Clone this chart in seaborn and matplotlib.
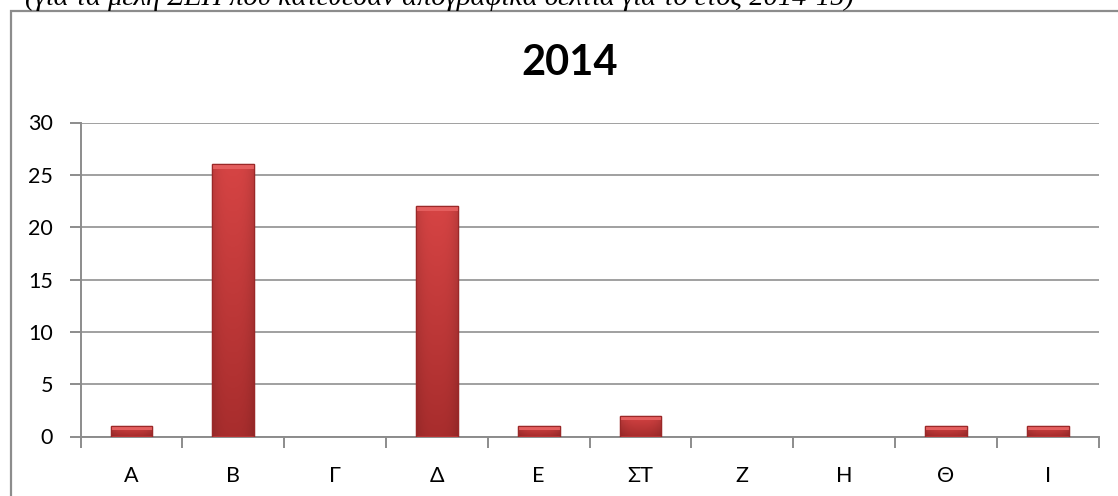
import matplotlib
matplotlib.use("Agg")
import matplotlib.pyplot as plt
import seaborn as sns
import pandas as pd
import numpy as np
from matplotlib.patches import Rectangle
from matplotlib.ticker import FixedLocator
from matplotlib.colors import to_rgb

categories = ["Α", "Β", "Γ", "Δ", "Ε", "ΣΤ", "Ζ", "Η", "Θ", "Ι"]
values = [1, 26, 0, 22, 1, 2, 0, 0, 1, 1]
yticks = [0, 5, 10, 15, 20, 25, 30]
title = "2014"
caption = "(για τα μέλη ΣΕΠ που κατέθεσαν απογραφικά δελτία για το έτος 2014-15)"

sns.set_theme(style="white")
plt.rcParams['font.family'] = ['Lato', 'DejaVu Sans']
plt.rcParams['text.color'] = 'black'
plt.rcParams['xtick.color'] = 'black'
plt.rcParams['ytick.color'] = 'black'

W, H = 1118, 496
fig = plt.figure(figsize=(W / 100, H / 100), dpi=100)
fig.patch.set_facecolor("white")

# chart border (top and left visible, extends beyond bottom/right)
fig.patches.append(Rectangle((11 / W, -0.1), 1.2, (H - 11) / H + 0.1, transform=fig.transFigure,
                             fill=False, edgecolor="#8c8c8c", linewidth=1.6, zorder=0))

# caption partially cut off at top (as in the reference)
fig.text(25 / W, (H - 5) / H, caption, fontsize=20.5, style="italic",
         family=["Liberation Serif", "DejaVu Serif"], ha="left", va="baseline", color="black")

left, right, top, bottom = 80.6, 1098.6, 122.5, 436.5
ax = fig.add_axes([left / W, (H - bottom) / H, (right - left) / W, (bottom - top) / H])

df = pd.DataFrame({"cat": categories, "val": values})
sns.barplot(data=df, x="cat", y="val", ax=ax, color="#C43A3A", width=0.41,
            edgecolor="#9A2828", linewidth=1.0, saturation=1, zorder=3)

# gradient fill (lighter top, darker bottom/edges) clipped to each bar
top_c = np.array(to_rgb("#D64444"))
bot_c = np.array(to_rgb("#A82D2D"))
ny, nx = 100, 40
tv = np.linspace(1, 0, ny)[:, None, None]
grad = tv * top_c + (1 - tv) * bot_c
hx = np.abs(np.linspace(-1, 1, nx))[None, :, None]
grad = grad * (1 - 0.12 * hx ** 3)
grad = np.broadcast_to(grad, (ny, nx, 3)).copy()

for p in list(ax.patches):
    h = p.get_height()
    if h <= 0:
        p.set_visible(False)
        continue
    x0, w = p.get_x(), p.get_width()
    im = ax.imshow(grad, extent=(x0, x0 + w, 0, h), aspect="auto", zorder=3.5,
                   interpolation="bilinear", origin="upper")
    im.set_clip_path(p)
    hl = min(0.45, h * 0.4)
    ax.add_patch(Rectangle((x0, h - hl), w, hl, facecolor="#E45E5E", edgecolor="none", zorder=4))
    ax.add_patch(Rectangle((x0, 0), w, h, facecolor="none", edgecolor="#9A2828",
                           linewidth=0.8, zorder=4.5))

ax.set_ylim(0, 30)
ax.set_xlim(-0.5, len(categories) - 0.5)
ax.set_yticks(yticks)
ax.set_yticklabels([str(t) for t in yticks], fontsize=15.5)
ax.set_xticks(range(len(categories)))
ax.set_xticklabels(categories, fontsize=15.5)
ax.set_xlabel("")
ax.set_ylabel("")

ax.yaxis.grid(True, color="#A0A0A0", linewidth=1.4, zorder=0)
ax.set_axisbelow(True)
for s in ["top", "right"]:
    ax.spines[s].set_visible(False)
for s in ["left", "bottom"]:
    ax.spines[s].set_color("#8c8c8c")
    ax.spines[s].set_linewidth(1.4)

ax.tick_params(axis="y", which="both", left=True, length=8, width=1.4, color="#8c8c8c",
               pad=12, labelcolor="black")
ax.tick_params(axis="x", which="major", bottom=False, pad=15, labelcolor="black")
ax.xaxis.set_minor_locator(FixedLocator([i - 0.5 for i in range(len(categories) + 1)]))
ax.tick_params(axis="x", which="minor", bottom=True, length=8, width=1.4, color="#8c8c8c", direction="out")

fig.text(570 / W, (H - 63) / H, title, fontsize=30, fontweight="bold", ha="center", va="center",
         color="black")

fig.savefig("out.png", dpi=100)
